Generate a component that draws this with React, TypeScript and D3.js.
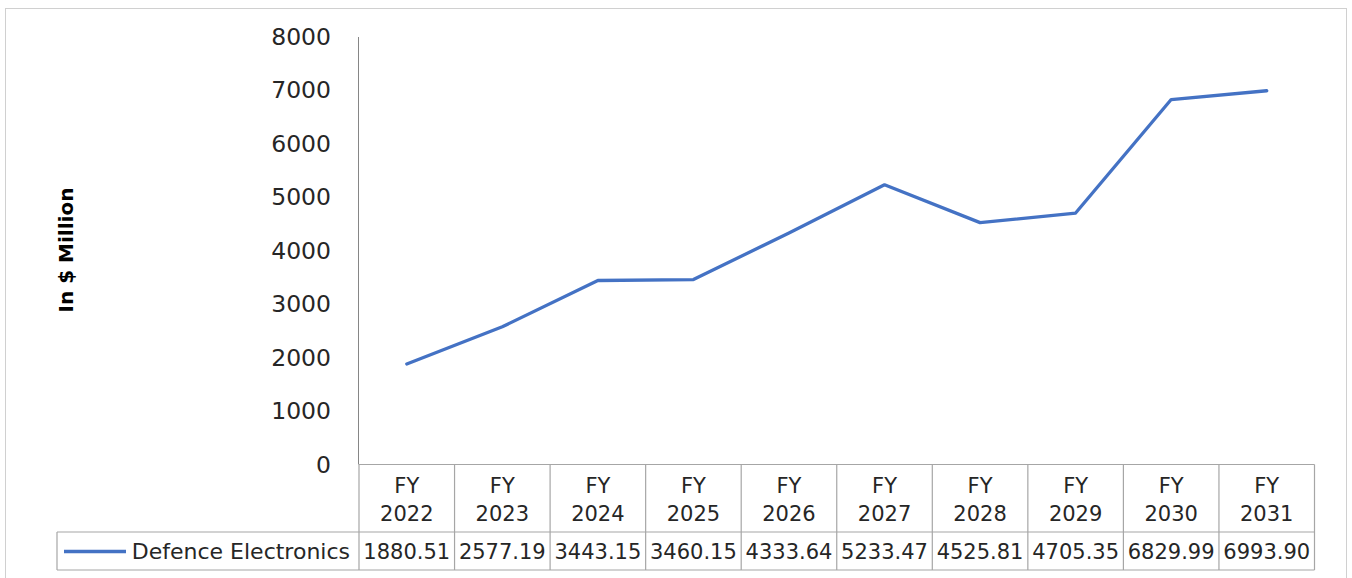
import React from "react";
import * as d3 from "d3";

const categories = ["FY 2022", "FY 2023", "FY 2024", "FY 2025", "FY 2026", "FY 2027", "FY 2028", "FY 2029", "FY 2030", "FY 2031"];
const values = [1880.51, 2577.19, 3443.15, 3460.15, 4333.64, 5233.47, 4525.81, 4705.35, 6829.99, 6993.9];
const valueLabels = ["1880.51", "2577.19", "3443.15", "3460.15", "4333.64", "5233.47", "4525.81", "4705.35", "6829.99", "6993.90"];
const yTicks = [0, 1000, 2000, 3000, 4000, 5000, 6000, 7000, 8000];
const seriesName = "Defence Electronics";
const yTitle = "In $ Million";

const W = 1352;
const H = 578;
const plot = { left: 359, right: 1314.5, top: 37, bottom: 464.5 };
const headerBottom = 532;
const rowBottom = 570;
const tableLeft = 57;
const gridColor = "#a6a6a6";
const lineColor = "#4472C4";
const font = "'DejaVu Sans', sans-serif";

export default function App() {
  const x = d3.scaleBand().domain(categories).range([plot.left, plot.right]).padding(0);
  const y = d3.scaleLinear().domain([0, 8000]).range([plot.bottom, plot.top]);
  const cx = (c: string) => (x(c) as number) + x.bandwidth() / 2;

  const line = d3
    .line<number>()
    .x((_, i) => cx(categories[i]))
    .y((d) => y(d));

  const bounds = categories.map((c) => x(c) as number).concat([plot.right]);

  return (
    <svg
      width={W}
      height={H}
      style={{ position: "absolute", left: 0, top: 0, display: "block", background: "#fff" }}
      fontFamily={font}
    >
      {/* chart frame */}
      <rect x={5.5} y={8.5} width={1341} height={580} fill="none" stroke="#d0d0d0" strokeWidth={1} />

      {/* y axis */}
      <line x1={plot.left - 0.5} x2={plot.left - 0.5} y1={plot.top} y2={plot.bottom} stroke="#868686" strokeWidth={1} />
      {yTicks.map((t) => (
        <text key={t} x={331} y={y(t)} textAnchor="end" dominantBaseline="central" fontSize={23.5} fill="#262626">
          {t}
        </text>
      ))}
      <text
        transform={`translate(66,${250}) rotate(-90)`}
        textAnchor="middle"
        dominantBaseline="central"
        fontSize={20}
        fontWeight="bold"
        fill="#000"
      >
        {yTitle}
      </text>

      {/* data table */}
      <g stroke={gridColor} strokeWidth={1.2} fill="none">
        <line x1={plot.left} x2={plot.right} y1={plot.bottom} y2={plot.bottom} />
        <line x1={tableLeft} x2={plot.right} y1={headerBottom} y2={headerBottom} />
        <line x1={tableLeft} x2={plot.right} y1={rowBottom} y2={rowBottom} />
        <line x1={tableLeft} x2={tableLeft} y1={headerBottom} y2={rowBottom} />
        {bounds.map((b, i) => (
          <line key={i} x1={b} x2={b} y1={plot.bottom} y2={rowBottom} />
        ))}
      </g>
      {categories.map((c, i) => {
        const [a, b] = c.split(" ");
        return (
          <g key={c} fontSize={21} fill="#262626" textAnchor="middle">
            <text x={cx(c)} y={486} dominantBaseline="central">{a}</text>
            <text x={cx(c)} y={514} dominantBaseline="central">{b}</text>
            <text x={cx(c)} y={551.5} dominantBaseline="central">{valueLabels[i]}</text>
          </g>
        );
      })}
      <line x1={64} x2={126} y1={551.5} y2={551.5} stroke={lineColor} strokeWidth={3.3} />
      <text x={350} y={551.5} textAnchor="end" dominantBaseline="central" fontSize={22} fill="#262626">
        {seriesName}
      </text>

      {/* series */}
      <path d={line(values) ?? ""} fill="none" stroke={lineColor} strokeWidth={3.3} strokeLinejoin="round" strokeLinecap="round" />
    </svg>
  );
}
